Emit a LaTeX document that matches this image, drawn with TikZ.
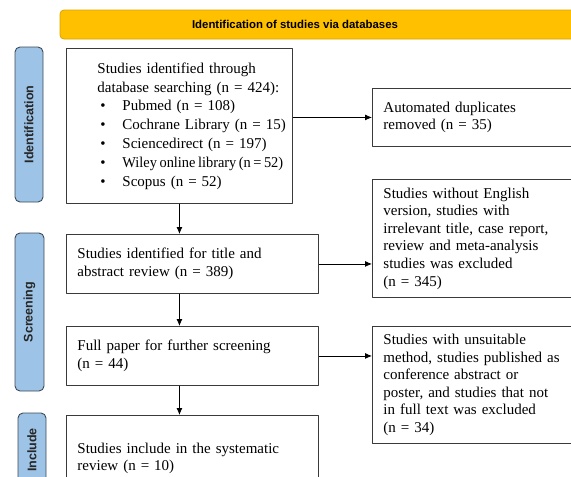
\documentclass[tikz,border=0pt]{standalone}
\usepackage{fontspec}
\setmainfont{Liberation Serif}
\newfontfamily\labelfont{Liberation Sans}
\usetikzlibrary{arrows.meta}
\definecolor{bannerfill}{HTML}{FFC000}
\definecolor{bannerline}{HTML}{D9A300}
\definecolor{phasefill}{HTML}{9DC3E6}
\definecolor{phaseline}{HTML}{3E4A57}
\definecolor{boxline}{HTML}{3A3A3A}
\newcommand{\bulletline}[2][1]{\mbox{\hspace*{3pt}\makebox[22pt][l]{\textbullet}\scalebox{#1}[1]{#2}}}
\begin{document}
\begin{tikzpicture}[x=1pt,y=-1pt,>={Latex[length=7pt,width=6pt]},line join=round,
    font=\fontsize{15}{17.6}\selectfont,
    box/.style={draw=boxline,line width=0.9pt,fill=white,anchor=north west,align=left,inner xsep=11pt,inner ysep=0pt},
    phase/.style={draw=phaseline,line width=0.9pt,fill=phasefill,rounded corners=5pt,rotate=90,
        font=\labelfont\bfseries\fontsize{12.5}{14}\selectfont,text=black!85,inner sep=0pt}]
    \useasboundingbox (0,0) rectangle (571,477);
    \clip (0,0) rectangle (571,477);
    % header
    \draw[draw=bannerline,line width=0.8pt,fill=bannerfill,rounded corners=4pt] (60,10) rectangle (620,39);
    \node[font=\labelfont\bfseries\fontsize{11.4}{13}\selectfont] (title) at (295,24.5) {Identification of studies via databases};
    % phases
    \node[phase,minimum width=155,minimum height=28] (pid) at (29,124.5) {Identification};
    \node[phase,minimum width=158,minimum height=29] (pscr) at (29.5,312) {Screening};
    \node[phase,minimum width=74,minimum height=28] (pinc) at (32,450) {Include};
    % main column
    \node[box,inner xsep=2pt,text width=222,minimum height=155,font=\fontsize{15}{18.8}\selectfont] (id) at (66,48)
        {\leftskip=29pt Studies identified through\\ database searching (n = 424):\\
        \bulletline{Pubmed (n = 108)}\\
        \bulletline{Cochrane Library (n = 15)}\\
        \bulletline{Sciencedirect (n = 197)}\\
        \bulletline[0.96]{\spaceskip=2.6pt Wiley online library (n = 52)}\\
        \bulletline{Scopus (n = 52)}\par};
    \node[box,text width=230,minimum height=59] (ta) at (66,234)
        {Studies identified for title and\\ abstract review (n = 389)};
    \node[box,text width=230,minimum height=59] (fp) at (66,326)
        {Full paper for further screening\\ (n = 44)};
    \node[box,text width=230,minimum height=86] (inc) at (66,415)
        {Studies include in the systematic\\ review (n = 10)};
    % right column
    \node[box,text width=206,minimum height=58] (dup) at (372,88)
        {Automated duplicates\\ removed (n = 35)};
    \node[box,text width=206,minimum height=118] (exa) at (372,179)
        {Studies without English\\ version, studies with\\ irrelevant title, case report,\\ review and meta-analysis\\ studies was excluded\\ (n = 345)};
    \node[box,text width=206,minimum height=117] (exb) at (372,326)
        {Studies with unsuitable\\ method, studies published as\\ conference abstract or\\ poster, and studies that not\\ in full text was excluded\\ (n = 34)};
    % arrows
    \draw[->,line width=0.8pt] (id.south) -- (id.south |- ta.north);
    \draw[->,line width=0.8pt] (id.south |- ta.south) -- (id.south |- fp.north);
    \draw[->,line width=0.8pt] (id.south |- fp.south) -- (id.south |- inc.north);
    \draw[->,line width=0.8pt] (id.east |- dup.west) -- (dup.west);
    \draw[->,line width=0.8pt] (ta.east) -- (ta.east -| exa.west);
    \draw[->,line width=0.8pt] (fp.east) -- (fp.east -| exb.west);
\end{tikzpicture}
\end{document}
